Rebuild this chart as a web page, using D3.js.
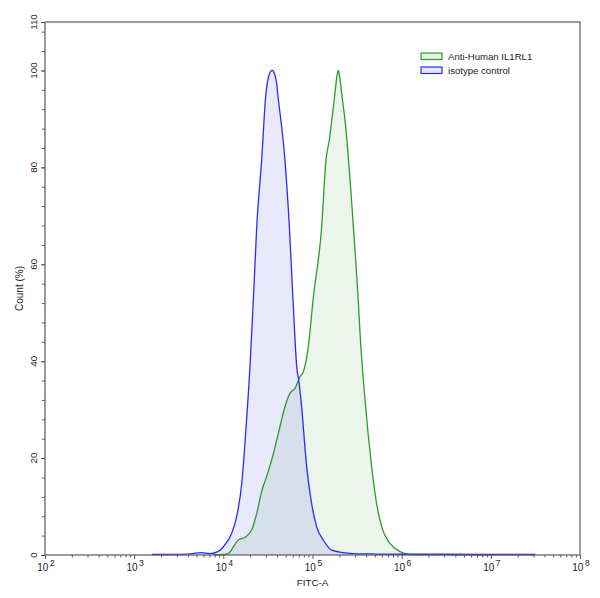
<!DOCTYPE html>
<html><head><meta charset="utf-8">
<script src="https://cdn.jsdelivr.net/npm/d3@7"></script>
<style>
html,body{margin:0;padding:0;background:#fff;}
svg{display:block;font-family:"Liberation Sans",Arial,sans-serif;}
</style></head>
<body>
<svg id="chart" width="600" height="598"></svg>
<script>
// Series: FITC-A value, Count (%)
const isotypeX = [1580, 3980, 5620, 7080, 8910, 10000, 12400, 14100, 16100, 17800, 19900, 21700, 23700, 26900, 30060, 31400, 32600, 34000, 35400, 36900, 38500, 39600, 40700, 49100, 55000, 61000, 66500, 70800, 74300, 86100, 96200, 111400, 132100, 164100, 263000, 501000, 1000000, 10000000, 31600000];
const isotypeY = [0.1, 0.2, 0.5, 0.3, 0.8, 1.7, 4.5, 7.9, 14.8, 25.1, 38.9, 52.6, 67.8, 81.5, 95.3, 97.8, 99.1, 99.8, 100, 99.6, 98.6, 97.4, 95.3, 81.5, 67.8, 51.2, 38.9, 35.5, 32.0, 18.2, 11.4, 5.8, 3.1, 1.0, 0.35, 0.2, 0.15, 0.1, 0.1];

const antiX = [7940, 10000, 11400, 14700, 17500, 20800, 23700, 26900, 30600, 34700, 41400, 49100, 56000, 63700, 72400, 78900, 89700, 102000, 126800, 141600, 154200, 178600, 190000, 194500, 199000, 212300, 235500, 270400, 304800, 325800, 341200, 388100, 461300, 515200, 597000, 739600, 957200, 1239000, 3162000, 10000000];
const antiY = [0.05, 0.1, 0.35, 3.1, 3.65, 5.2, 8.6, 13.1, 16.2, 19.5, 25.1, 30.6, 33.4, 34.4, 36.8, 37.8, 43.0, 53.0, 67.8, 81.5, 85.6, 95.3, 99.4, 100, 99.4, 95.3, 88.4, 74.7, 60.9, 52.6, 45.8, 32.0, 18.2, 11.4, 5.8, 2.4, 0.7, 0.1, 0.1, 0.05];

const seriesNames = ["Anti-Human IL1RL1", "isotype control"];
const yTickValues = [0, 20, 40, 60, 80, 100, 110];
const xTickExponents = [2, 3, 4, 5, 6, 7, 8];
const xLabel = "FITC-A";
const yLabel = "Count (%)";

const svg = d3.select("#chart");
const m = {left: 45, right: 20, top: 22, bottom: 43};
const W = 600, H = 598;
const x = d3.scaleLog().domain([1e2, 1e8]).range([m.left, W - m.right]);
const y = d3.scaleLinear().domain([0, 110]).range([H - m.bottom, m.top]);

const axisColor = "#5a5a5a";
const textColor = "#222";

const area = d3.area().x(d => x(d[0])).y0(y(0)).y1(d => y(d[1])).curve(d3.curveMonotoneX);
const line = d3.line().x(d => x(d[0])).y(d => y(d[1])).curve(d3.curveMonotoneX);
const anti = antiX.map((v, i) => [v, antiY[i]]);
const iso = isotypeX.map((v, i) => [v, isotypeY[i]]);

svg.append("path").attr("d", area(anti)).attr("fill", "rgba(30,140,30,0.09)");
svg.append("path").attr("d", area(iso)).attr("fill", "rgba(40,40,230,0.10)");
svg.append("path").attr("d", line(anti)).attr("fill", "none").attr("stroke", "#2e9a2e").attr("stroke-width", 1.3);
svg.append("path").attr("d", line(iso)).attr("fill", "none").attr("stroke", "#2a2aff").attr("stroke-width", 1.3);

// Frame
svg.append("rect").attr("x", m.left).attr("y", m.top)
  .attr("width", W - m.right - m.left).attr("height", H - m.bottom - m.top)
  .attr("fill", "none").attr("stroke", axisColor).attr("stroke-width", 1.2);

// Y axis
const yMinor = d3.range(0, 111, 4);
const gy = svg.append("g").attr("transform", `translate(${m.left},0)`)
  .call(d3.axisLeft(y).tickValues(yMinor).tickSize(3).tickFormat(""));
gy.select(".domain").remove();
gy.selectAll("line").attr("stroke", axisColor);
const gyMajor = svg.append("g").attr("transform", `translate(${m.left},0)`)
  .call(d3.axisLeft(y).tickValues(yTickValues).tickSize(4).tickFormat(""));
gyMajor.select(".domain").remove();
gyMajor.selectAll("line").attr("stroke", axisColor);
svg.append("g").selectAll("text").data(yTickValues).join("text")
  .attr("transform", d => `translate(37,${y(d)}) rotate(-90)`)
  .attr("text-anchor", "middle").attr("font-size", 9.8).attr("fill", textColor)
  .text(d => d);

// X axis
const minorTicks = [];
for (let e = 2; e < 8; e++) for (let k = 2; k <= 9; k++) minorTicks.push(k * Math.pow(10, e));
const gxMinor = svg.append("g").attr("transform", `translate(0,${y(0)})`)
  .call(d3.axisBottom(x).tickValues(minorTicks).tickSize(2.5).tickFormat(""));
gxMinor.select(".domain").remove();
gxMinor.selectAll("line").attr("stroke", axisColor);
const gxMajor = svg.append("g").attr("transform", `translate(0,${y(0)})`)
  .call(d3.axisBottom(x).tickValues(xTickExponents.map(e => Math.pow(10, e))).tickSize(4).tickFormat(""));
gxMajor.select(".domain").remove();
gxMajor.selectAll("line").attr("stroke", axisColor);
const xl = svg.append("g").selectAll("text").data(xTickExponents).join("text")
  .attr("x", d => x(Math.pow(10, d)) + 1).attr("y", 571)
  .attr("text-anchor", "middle").attr("font-size", 10).attr("fill", textColor);
xl.append("tspan").text("10");
xl.append("tspan").attr("dx", 1.5).attr("dy", -5).attr("font-size", 8.5).text(d => d);

// Axis titles
svg.append("text").attr("x", (m.left + W - m.right) / 2).attr("y", 586)
  .attr("text-anchor", "middle").attr("font-size", 9.8).attr("fill", textColor).text(xLabel);
svg.append("text").attr("transform", `translate(23,${(m.top + H - m.bottom) / 2}) rotate(-90)`)
  .attr("text-anchor", "middle").attr("font-size", 10).attr("fill", textColor).text(yLabel);

// Legend
const legFill = ["rgba(30,140,30,0.12)", "rgba(40,40,230,0.12)"];
const legStroke = ["#2e9a2e", "#2a2aff"];
const leg = svg.append("g").selectAll("g").data(seriesNames).join("g")
  .attr("transform", (d, i) => `translate(421,${53 + i * 14})`);
leg.append("rect").attr("width", 21).attr("height", 6.5)
  .attr("fill", (d, i) => legFill[i]).attr("stroke", (d, i) => legStroke[i]).attr("stroke-width", 1.2);
leg.append("text").attr("x", 27).attr("y", 6.5).attr("font-size", 9.6).attr("fill", textColor).text(d => d);
</script>
</body></html>
